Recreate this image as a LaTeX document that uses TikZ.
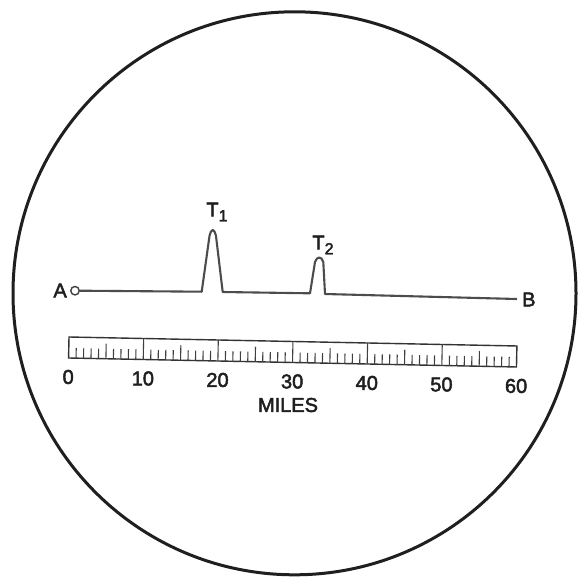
\documentclass[tikz,border=0pt]{standalone}
\usepackage{fontspec}
\setmainfont{Liberation Sans}
\newfontfamily\lblfont{Liberation Sans}[FakeBold=2.4,BoldFont={Liberation Sans},BoldFeatures={FakeBold=2.4}]
\begin{document}
\begin{tikzpicture}[x=1pt,y=-1pt,
  lbl/.style={font=\lblfont\bfseries\fontsize{20}{20}\selectfont, inner sep=0pt, text=black!88},
  trace/.style={line width=2.1pt, draw=black!70, line join=round},
  rim/.style={line width=3pt, draw=black!88},
  scalebox/.style={line width=1.4pt, draw=black!80},
  tick/.style={line width=1.1pt, draw=black!75}]
\useasboundingbox (0,0) rectangle (578,578);
\fill[white] (0,0) rectangle (578,578);
% outer scope
\node[rim, circle, minimum size=563pt, inner sep=0pt] (scope) at (294.5,293.3) {};
% trace
\node[draw=black!75, line width=1.4pt, circle, minimum size=8.5pt, inner sep=0pt, fill=white] (A) at (75,290.7) {};
\coordinate (Bend) at (517,299);
\node[lbl, anchor=east] (Alab) at (67,290.5) {A};
\node[lbl, anchor=west] (Blab) at (522,299.5) {B};
\draw[trace] (A.east) -- (201.7,291.7) -- (209.5,236)
  .. controls (211.5,228) and (214,228) .. (216,236)
  -- (222.7,292) -- (310,293.3) -- (315,262)
  .. controls (317,256) and (321.5,256) .. (323.3,262)
  -- (325,294) -- (Bend);
\node[lbl] (T1) at (217,212) {T\raisebox{-0.45ex}{\fontsize{16}{16}\selectfont 1}};
\node[lbl] (T2) at (323,245) {T\raisebox{-0.45ex}{\fontsize{16}{16}\selectfont 2}};
% scale
\begin{scope}[shift={(69,337)}, rotate=-1.15]
  \draw[scalebox] (0,0) rectangle (448,21);
  \foreach \i in {1,...,59} {
    \pgfmathsetmacro{\xx}{\i*7.46667}
    \pgfmathtruncatemacro{\rr}{mod(\i,10)}
    \pgfmathtruncatemacro{\ff}{mod(\i,5)}
    \ifnum\rr=0
      \draw[tick] (\xx,0) -- (\xx,21);
    \else\ifnum\ff=0
      \draw[tick] (\xx,6) -- (\xx,21);
    \else
      \draw[tick] (\xx,11) -- (\xx,21);
    \fi\fi
  }
  \foreach \v [count=\k from 0] in {0,10,20,30,40,50,60} {
    \node[lbl] (n\v) at ({\k*74.6667},40) {\v};
  }
\end{scope}
\node[lbl] (miles) at (288,405) {MILES};
\end{tikzpicture}
\end{document}
